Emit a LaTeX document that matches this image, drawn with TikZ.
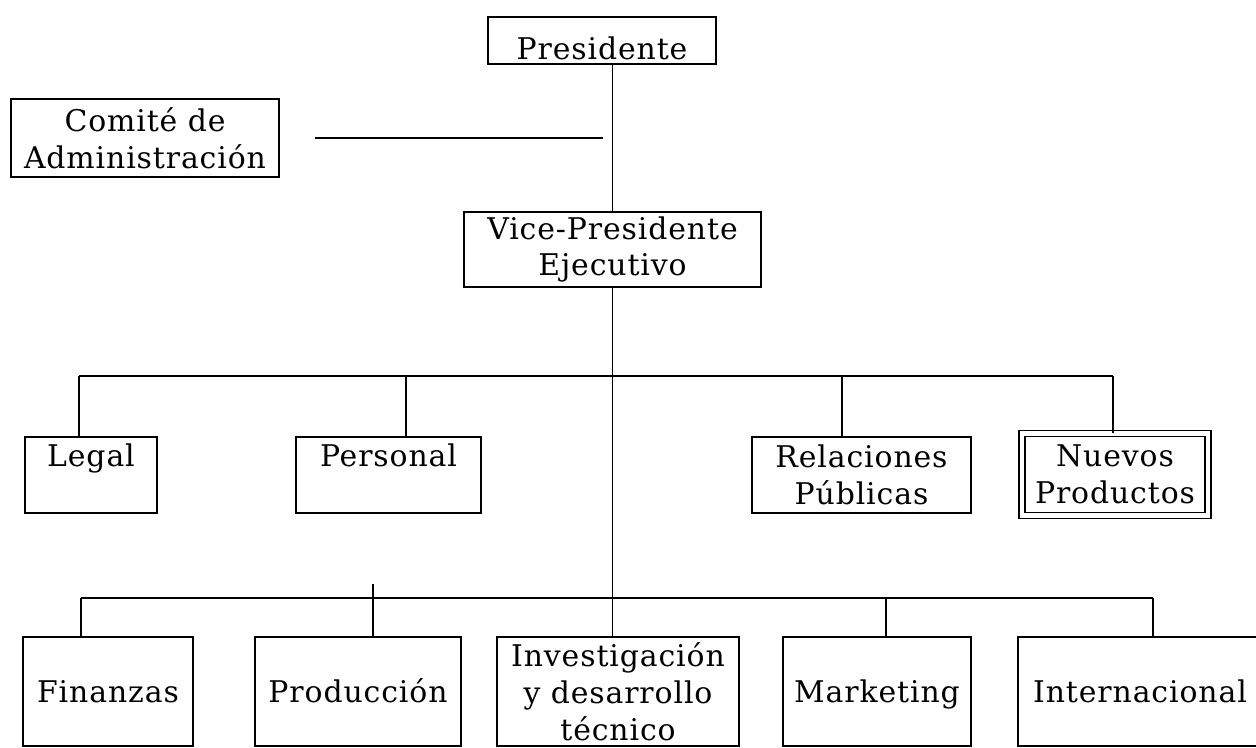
\documentclass[tikz,border=0pt]{standalone}
\usepackage{fontspec}
\setmainfont{DejaVu Serif}[LetterSpace=3]

\begin{document}
\begin{tikzpicture}[
  every node/.style={font=\fontsize{17}{21}\selectfont},
  box/.style={draw, line width=1.1pt, inner sep=0pt, align=center},
  dbox/.style={box, double, double distance=2.3pt},
  lowtext/.style={text height=0.46cm, text depth=0pt},
  hightext/.style={text height=0.3cm, text depth=0.62cm},
  link/.style={draw, line width=1.1pt}
]
\useasboundingbox (0,0) rectangle (25.12,14.96);
\clip (0,0) rectangle (25.12,14.96);

%% Top of the chart
\node[box, minimum width=4.56cm, minimum height=0.94cm,
      text height=0.78cm, text depth=0pt] (pres) at (12.04,14.15) {Presidente};
\node[box, minimum width=5.36cm, minimum height=1.56cm] (comite) at (2.90,12.20)
  {Comité de\\Administración};
\node[box, minimum width=5.94cm, minimum height=1.5cm] (vp) at (12.25,9.97)
  {Vice-Presidente\\Ejecutivo};

%% Staff units
\node[box, hightext, minimum width=2.64cm, minimum height=1.52cm] (legal) at (1.82,5.46) {Legal};
\node[box, hightext, minimum width=3.7cm, minimum height=1.52cm] (personal) at (7.77,5.46) {Personal};
\node[box, minimum width=4.38cm, minimum height=1.52cm] (relpub) at (17.23,5.46)
  {Relaciones\\Públicas};
\node[dbox, minimum width=3.72cm, minimum height=1.64cm] (nuevos) at (22.30,5.47)
  {Nuevos\\Productos};

%% Line units
\node[box, lowtext, minimum width=3.4cm, minimum height=2.18cm] (fin) at (2.16,1.13) {Finanzas};
\node[box, lowtext, minimum width=4.12cm, minimum height=2.18cm] (prod) at (7.16,1.13) {Producción};
\node[box, minimum width=4.84cm, minimum height=2.18cm] (inv) at (12.36,1.13)
  {Investigación\\y desarrollo\\técnico};
\node[box, lowtext, minimum width=3.76cm, minimum height=2.18cm] (mkt) at (17.54,1.13) {Marketing};
\node[box, lowtext, minimum width=4.88cm, minimum height=2.18cm] (intl) at (22.80,1.13) {Internacional};

%% Connections
\coordinate (bar1) at (0,7.44);
\coordinate (bar2) at (0,3.00);

\draw[link] (vp.north) -- (vp.north |- pres.south);
\draw[link] ([xshift=0.7cm]comite.east) -- ([xshift=-0.19cm]comite.east -| vp.north);
\draw[link] (vp.south) -- (vp.south |- inv.north);

\draw[link] ([xshift=-0.24cm]legal.north |- bar1) -- ([xshift=-0.04cm]nuevos.north |- bar1);
\foreach \n/\dx in {legal/-0.24, personal/0.35, relpub/-0.39, nuevos/-0.04}
  \draw[link] ([xshift=\dx cm]\n.north) -- ([xshift=\dx cm]\n.north |- bar1);

\draw[link] ([xshift=-0.54cm]fin.north |- bar2) -- ([xshift=0.26cm]intl.north |- bar2);
\foreach \n/\dx in {fin/-0.54, prod/0.30, mkt/0.18, intl/0.26}
  \draw[link] ([xshift=\dx cm]\n.north) -- ([xshift=\dx cm]\n.north |- bar2);
\draw[link] ([xshift=0.30cm]prod.north |- bar2) -- ++(0,0.28);

\end{tikzpicture}
\end{document}
